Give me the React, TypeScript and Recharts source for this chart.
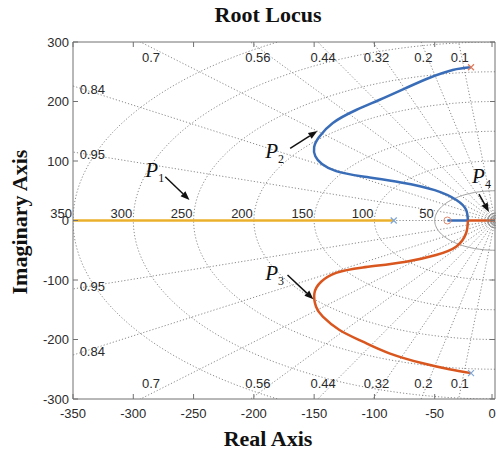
import React from "react";
import {
  ComposedChart,
  Line,
  ReferenceDot,
  ReferenceLine,
  XAxis,
  YAxis,
} from "recharts";

const realTicks = [-350, -300, -250, -200, -150, -100, -50, 0];
const imagTicks = [-300, -200, -100, 0, 100, 200, 300];
const dampingRatios = [0.1, 0.2, 0.32, 0.44, 0.56, 0.7, 0.84, 0.95];
const naturalFreqs = [50, 100, 150, 200, 250, 300, 350];

// branches
const yellowAxisBranch = [
  { re: -350, im: 0 },
  { re: -84, im: 0 },
];
const blueAxisBranch = [
  { re: -39.5, im: 0 },
  { re: -22.5, im: 0 },
];
const redAxisBranch = [
  { re: -22.5, im: 0 },
  { re: 0, im: 0 },
];
const blueBranch = [
  { re: -22.5, im: 0 },
  { re: -24, im: 18 },
  { re: -32, im: 34.5 },
  { re: -50, im: 51 },
  { re: -78, im: 64 },
  { re: -109.6, im: 74 },
  { re: -131.8, im: 83 },
  { re: -143.5, im: 95 },
  { re: -149, im: 108 },
  { re: -150, im: 123.5 },
  { re: -145.9, im: 140.3 },
  { re: -134.5, im: 163.9 },
  { re: -115.2, im: 185.7 },
  { re: -96.1, im: 202.5 },
  { re: -73.8, im: 222.7 },
  { re: -54.7, im: 239.5 },
  { re: -35.1, im: 252.9 },
  { re: -19.9, im: 257.5 },
];
const redBranch = [
  { re: -22.5, im: 0 },
  { re: -24, im: -21.5 },
  { re: -32.3, im: -44 },
  { re: -48.9, im: -58 },
  { re: -73.8, im: -69.2 },
  { re: -109.6, im: -79 },
  { re: -131.8, im: -88 },
  { re: -144.2, im: -102.9 },
  { re: -149.8, im: -122.4 },
  { re: -148.4, im: -144.9 },
  { re: -142.8, im: -161.7 },
  { re: -129, im: -184 },
  { re: -109.6, im: -203.7 },
  { re: -87.6, im: -223.2 },
  { re: -59.9, im: -240 },
  { re: -37.9, im: -250 },
  { re: -19.9, im: -256.5 },
];

const poles = [
  { re: -84, im: 0, color: "#7ea6d6" },
  { re: -19.9, im: 257.5, color: "#e07a5a" },
  { re: -19.9, im: -256.5, color: "#7ea6d6" },
];
const zeros = [{ re: -39.5, im: 0, color: "#e08a70" }];
const originRings = [2.5, 5, 7.5];

const pointerNames = ["1", "2", "3", "4"];
const pointerText = [
  { re: -290, im: 73 },
  { re: -190.6, im: 105 },
  { re: -190.6, im: -100 },
  { re: -19, im: 63 },
];
const pointerFrom = [
  { re: -273.5, im: 73.6 },
  { re: -169.9, im: 121.3 },
  { re: -172.1, im: -91.6 },
  { re: -13.3, im: 44.5 },
];
const pointerTo = [
  { re: -253.4, im: 34.5 },
  { re: -147.3, im: 150.4 },
  { re: -150.6, im: -132.4 },
  { re: -5, im: 14.3 },
];

const BLUE = "#3a6db8";
const RED = "#d9561f";
const YELLOW = "#eab02c";
const AXIS = "#707070";
const GRID = "#8c8c8c";
const SANS = "'Liberation Sans', Arial, sans-serif";
const SERIF = "'Liberation Serif', 'Times New Roman', serif";

// sgrid geometry built from the damping / frequency lists
const rays = dampingRatios.flatMap((z) =>
  [1, -1].map((s) => [
    { re: 0, im: 0 },
    { re: -z * 700, im: s * Math.sqrt(1 - z * z) * 700 },
  ])
);
const arcs = naturalFreqs.map((w) =>
  Array.from({ length: 73 }, (_, i) => {
    const t = Math.PI / 2 + (Math.PI * i) / 72;
    return { re: w * Math.cos(t), im: w * Math.sin(t) };
  })
);

const BottomTick = (props: any) => {
  const { x, y, payload } = props;
  return (
    <g>
      <line x1={x} x2={x} y1={y} y2={y - 5} stroke={AXIS} />
      <text x={x} y={y + 19} textAnchor="middle" fontSize={13} fill="#2a2a2a" fontFamily={SANS}>
        {payload.value}
      </text>
    </g>
  );
};
const TopTick = (props: any) => (
  <line x1={props.x} x2={props.x} y1={props.y} y2={props.y + 5} stroke={AXIS} />
);
const LeftTick = (props: any) => {
  const { x, y, payload } = props;
  return (
    <g>
      <line x1={x} x2={x + 5} y1={y} y2={y} stroke={AXIS} />
      <text x={x - 4} y={y + 4.5} textAnchor="end" fontSize={13} fill="#2a2a2a" fontFamily={SANS}>
        {payload.value}
      </text>
    </g>
  );
};
const RightTick = (props: any) => (
  <line x1={props.x} x2={props.x - 5} y1={props.y} y2={props.y} stroke={AXIS} />
);

const label = (text: string, anchor: string) => (p: any) => (
  <text
    x={p.cx}
    y={p.cy}
    textAnchor={anchor}
    dominantBaseline="central"
    fontSize={13}
    fill="#2a2a2a"
    fontFamily={SANS}
  >
    {text}
  </text>
);

const cross = (color: string) => (p: any) => (
  <path
    d={`M${p.cx - 3},${p.cy - 3}L${p.cx + 3},${p.cy + 3}M${p.cx - 3},${p.cy + 3}L${p.cx + 3},${p.cy - 3}`}
    stroke={color}
    strokeWidth={1.2}
  />
);

const ring = (color: string, r: number) => (p: any) => (
  <circle cx={p.cx} cy={p.cy} r={r} stroke={color} fill="none" strokeWidth={1} />
);

const pointerLabel = (sub: string) => (p: any) => (
  <text x={p.cx} y={p.cy} fontFamily={SERIF} fill="#111">
    <tspan fontSize={21} fontStyle="italic">
      P
    </tspan>
    <tspan fontSize={12} dy={5}>
      {sub}
    </tspan>
  </text>
);

const Arrow = (p: any) => {
  const { x1, y1, x2, y2 } = p;
  const a = Math.atan2(y2 - y1, x2 - x1);
  const L = 9;
  const W = 3.5;
  const bx = x2 - L * Math.cos(a);
  const by = y2 - L * Math.sin(a);
  const nx = -Math.sin(a) * W;
  const ny = Math.cos(a) * W;
  return (
    <g>
      <line x1={x1} y1={y1} x2={bx} y2={by} stroke="#111" strokeWidth={1.5} />
      <polygon points={`${x2},${y2} ${bx + nx},${by + ny} ${bx - nx},${by - ny}`} fill="#111" />
    </g>
  );
};

function dampingLabelPos(z: number, s: number) {
  const slope = Math.sqrt(1 - z * z) / z;
  if (slope * 350 > 300) {
    return { re: -291 / slope, im: s * 274 };
  }
  return { re: -334, im: s * slope * 340 };
}

const titleStyle: React.CSSProperties = {
  position: "absolute",
  width: 200,
  textAlign: "center",
  fontFamily: SERIF,
  fontWeight: "bold",
  fontSize: 22,
  color: "#111",
  lineHeight: "26px",
};

export default function App() {
  return (
    <div
      style={{
        position: "absolute",
        left: 0,
        top: 0,
        width: 496,
        height: 456,
        background: "#fff",
        overflow: "hidden",
      }}
    >
      <div style={{ ...titleStyle, left: 168, top: 2 }}>Root Locus</div>
      <div style={{ ...titleStyle, left: 168, top: 426 }}>Real Axis</div>
      <div
        style={{
          ...titleStyle,
          left: -80,
          top: 209,
          transform: "rotate(-90deg)",
        }}
      >
        Imaginary Axis
      </div>
      <ComposedChart
        width={496}
        height={456}
        margin={{ top: 41, right: 0, bottom: 27, left: 33 }}
        style={{ position: "absolute", left: 0, top: 0 }}
      >
        <XAxis
          type="number"
          dataKey="re"
          domain={[-350, 0]}
          ticks={realTicks}
          allowDataOverflow
          height={30}
          tickSize={0}
          tickMargin={0}
          tickLine={false}
          axisLine={{ stroke: AXIS }}
          tick={BottomTick}
        />
        <XAxis
          xAxisId="top"
          orientation="top"
          type="number"
          dataKey="re"
          domain={[-350, 0]}
          ticks={realTicks}
          allowDataOverflow
          height={1}
          tickSize={0}
          tickMargin={0}
          tickLine={false}
          axisLine={{ stroke: AXIS }}
          tick={TopTick}
        />
        <YAxis
          type="number"
          dataKey="im"
          domain={[-300, 300]}
          ticks={imagTicks}
          allowDataOverflow
          width={40}
          tickSize={0}
          tickMargin={0}
          tickLine={false}
          axisLine={{ stroke: AXIS }}
          tick={LeftTick}
        />
        <YAxis
          yAxisId="right"
          orientation="right"
          type="number"
          dataKey="im"
          domain={[-300, 300]}
          ticks={imagTicks}
          allowDataOverflow
          width={1}
          tickSize={0}
          tickMargin={0}
          tickLine={false}
          axisLine={{ stroke: AXIS }}
          tick={RightTick}
        />

        {rays.map((d, i) => (
          <Line
            key={`ray-${i}`}
            data={d}
            dataKey="im"
            type="linear"
            stroke={GRID}
            strokeWidth={1}
            strokeDasharray="1.2 2"
            dot={false}
            activeDot={false}
            isAnimationActive={false}
          />
        ))}
        {arcs.map((d, i) => (
          <Line
            key={`arc-${i}`}
            data={d}
            dataKey="im"
            type="linear"
            stroke={i === 0 ? "#a0a0a0" : GRID}
            strokeWidth={1}
            strokeDasharray={i === 0 ? undefined : "1.2 2"}
            dot={false}
            activeDot={false}
            isAnimationActive={false}
          />
        ))}
        <Line
          data={[
            { re: -350, im: 0 },
            { re: 0, im: 0 },
          ]}
          dataKey="im"
          stroke={GRID}
          strokeDasharray="1.2 2"
          dot={false}
          activeDot={false}
          isAnimationActive={false}
        />

        <Line data={yellowAxisBranch} dataKey="im" type="linear" stroke={YELLOW} strokeWidth={2.5} dot={false} activeDot={false} isAnimationActive={false} />
        <Line data={blueAxisBranch} dataKey="im" type="linear" stroke={BLUE} strokeWidth={2.5} dot={false} activeDot={false} isAnimationActive={false} />
        <Line data={redAxisBranch} dataKey="im" type="linear" stroke={RED} strokeWidth={2.5} dot={false} activeDot={false} isAnimationActive={false} />
        <Line data={blueBranch} dataKey="im" type="natural" stroke={BLUE} strokeWidth={2.5} dot={false} activeDot={false} isAnimationActive={false} />
        <Line data={redBranch} dataKey="im" type="natural" stroke={RED} strokeWidth={2.5} dot={false} activeDot={false} isAnimationActive={false} />

        {poles.map((p, i) => (
          <ReferenceDot key={`pole-${i}`} x={p.re} y={p.im} r={3} shape={cross(p.color)} />
        ))}
        {zeros.map((p, i) => (
          <ReferenceDot key={`zero-${i}`} x={p.re} y={p.im} r={3} shape={ring(p.color, 3.5)} />
        ))}
        {originRings.map((r, i) => (
          <ReferenceDot key={`ring-${i}`} x={0} y={0} r={r} ifOverflow="visible" shape={ring("#8a8a8a", r)} />
        ))}

        {naturalFreqs.map((w) => (
          <ReferenceDot
            key={`wl-${w}`}
            x={-w}
            y={4.5}
            r={0}
            shape={(p: any) => (
              <text x={p.cx - 1} y={p.cy} textAnchor="end" fontSize={13} fill="#2a2a2a" fontFamily={SANS}>
                {w}
              </text>
            )}
          />
        ))}
        {dampingRatios.flatMap((z) =>
          [1, -1].map((s) => {
            const pos = dampingLabelPos(z, s);
            return (
              <ReferenceDot
                key={`zl-${z}-${s}`}
                x={pos.re}
                y={pos.im}
                r={0}
                shape={label(String(z), "middle")}
              />
            );
          })
        )}

        {pointerNames.map((n, i) => (
          <ReferenceLine
            key={`arrow-${n}`}
            segment={[
              { x: pointerFrom[i].re, y: pointerFrom[i].im },
              { x: pointerTo[i].re, y: pointerTo[i].im },
            ]}
            shape={Arrow}
          />
        ))}
        {pointerNames.map((n, i) => (
          <ReferenceDot
            key={`pl-${n}`}
            x={pointerText[i].re}
            y={pointerText[i].im}
            r={0}
            shape={pointerLabel(n)}
          />
        ))}
      </ComposedChart>
    </div>
  );
}
